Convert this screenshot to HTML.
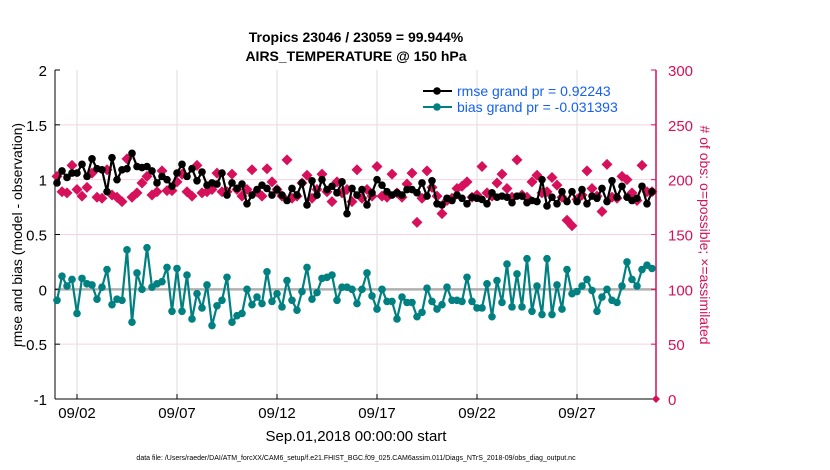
<!DOCTYPE html>
<html><head><meta charset="utf-8"><style>
body{margin:0;background:#fff;}
svg{display:block;font-family:"Liberation Sans",Arial,sans-serif;}
</style></head><body>
<svg id="chart" width="830" height="470" viewBox="0 0 830 470">
<text x="356" y="42" text-anchor="middle" font-size="14" font-weight="bold">Tropics 23046 / 23059 = 99.944%</text>
<text x="356" y="61" text-anchor="middle" font-size="14" font-weight="bold">AIRS_TEMPERATURE @ 150 hPa</text>
<g id="grid"></g>
<g id="axes"></g>
<g id="marks"></g>
<text transform="translate(22,235) rotate(-90)" text-anchor="middle" font-size="14">rmse and bias (model - observation)</text>
<text transform="translate(700,235) rotate(90)" text-anchor="middle" font-size="14" fill="#d6105a"># of obs: o=possible; ×=assimilated</text>
<text x="356" y="441" text-anchor="middle" font-size="15">Sep.01,2018 00:00:00 start</text>
<text x="356" y="460" text-anchor="middle" font-size="7">data file: /Users/raeder/DAI/ATM_forcXX/CAM6_setup/f.e21.FHIST_BGC.f09_025.CAM6assim.011/Diags_NTrS_2018-09/obs_diag_output.nc</text>
<g>
<line x1="423" y1="91" x2="452" y2="91" stroke="#000" stroke-width="2"/>
<circle cx="437" cy="91" r="3.8" fill="#000"/>
<text x="457" y="96" font-size="14" fill="#1560f0">rmse grand pr = 0.92243</text>
<line x1="423" y1="107" x2="452" y2="107" stroke="#008080" stroke-width="2"/>
<circle cx="437" cy="107" r="3.8" fill="#008080"/>
<text x="457" y="112" font-size="14" fill="#1560f0">bias grand pr = -0.031393</text>
</g>
</svg>
<script>
const rmse=[0.97,1.08,1.02,1.06,1.06,1.14,1.03,1.19,1.10,1.09,0.89,1.20,1.00,1.09,1.10,1.24,1.12,1.11,1.12,1.08,0.97,1.03,1.00,0.94,1.06,1.14,1.03,1.10,0.99,1.07,0.95,0.97,0.96,1.06,0.86,0.97,0.92,0.96,0.78,0.86,0.91,
0.95,0.92,0.86,0.91,0.86,0.81,0.92,0.86,0.97,0.77,0.99,0.86,1.0,0.91,0.94,0.88,0.98,0.69,0.92,0.86,0.91,0.77,0.88,1.0,0.95,0.89,0.86,0.88,0.86,0.91,0.91,0.88,0.97,0.85,0.99,0.78,0.77,0.83,0.81,0.86,
0.83,0.78,0.84,0.83,0.82,0.78,0.88,0.84,0.85,0.84,0.79,0.85,0.85,0.79,0.81,0.80,1.0,0.76,0.84,0.78,0.89,0.80,0.89,0.80,0.91,0.78,0.85,0.83,0.92,0.80,0.99,0.84,0.94,0.84,0.81,0.83,0.94,0.78,0.89];
const bias=[-0.10,0.12,0.03,0.09,-0.22,0.10,0.05,0.04,-0.09,0.02,0.18,-0.14,-0.09,-0.10,0.36,-0.30,0.15,0.0,0.38,0.02,0.05,0.07,0.20,-0.20,0.19,-0.20,0.13,-0.27,-0.04,-0.17,0.04,-0.33,-0.15,-0.10,0.11,-0.30,-0.24,-0.22,0.0,-0.14,-0.07,
-0.13,0.16,-0.11,-0.04,-0.16,0.08,-0.10,-0.19,-0.02,0.20,-0.09,-0.03,0.10,0.11,0.13,-0.10,0.02,0.02,0.0,-0.13,0.0,0.15,-0.06,-0.18,0.0,-0.11,-0.11,-0.27,-0.07,-0.12,-0.12,-0.25,-0.21,0.01,-0.11,-0.18,-0.14,0.02,-0.10,-0.10,
-0.11,0.11,-0.11,-0.17,-0.17,0.05,-0.25,0.08,-0.12,0.23,-0.16,0.14,-0.16,0.28,-0.20,0.03,-0.23,0.28,-0.23,0.04,-0.18,0.18,-0.04,-0.02,0.03,0.09,-0.01,-0.20,-0.07,0,-0.10,-0.12,0.03,0.25,0.09,0.03,0.18,0.22,0.19];
const nobs=[203,189,188,213,191,185,193,206,184,183,209,186,184,180,219,184,188,197,203,186,189,208,190,190,198,205,189,185,213,188,189,191,206,189,189,205,191,185,191,209,189,
185,210,198,191,185,218,183,185,197,204,183,191,205,189,180,198,188,191,180,209,183,191,185,212,185,184,205,188,184,196,206,161,183,208,193,185,169,181,183,192,
194,198,184,186,212,188,185,197,205,192,184,218,186,184,198,204,188,189,202,195,184,163,158,182,186,208,192,185,171,214,184,183,203,200,188,181,213,189,189];
const xTickDays=[1,6,11,16,21,26];
const xTickLabels=["09/02","09/07","09/12","09/17","09/22","09/27"];
const yLeftTicks=[-1,-0.5,0,0.5,1,1.5,2];
const yRightTicks=[0,50,100,150,200,250,300];
const stepDays=0.25;

const NS="http://www.w3.org/2000/svg";
const X0=55,X1=656,Y0=399,Y1=70;
const xs=t=>X0+(t+0.1)/30.05*(X1-X0);
const yl=v=>Y0-(v+1)/3*(Y0-Y1);
const yr=v=>Y0-v/300*(Y0-Y1);
function mk(tag,at,parent){const e=document.createElementNS(NS,tag);for(const k in at)e.setAttribute(k,at[k]);parent.appendChild(e);return e;}
const grid=document.getElementById('grid'),axes=document.getElementById('axes'),marks=document.getElementById('marks');
xTickDays.forEach((d,i)=>{
  const g=mk('line',{x1:xs(d),x2:xs(d),y1:Y1,y2:Y0,stroke:'#dcdcdc','stroke-width':1},grid);
  
  
  mk('line',{x1:xs(d),x2:xs(d),y1:Y0,y2:Y0-5,stroke:'#000'},axes);
  const t=mk('text',{x:xs(d),y:Y0+19,'text-anchor':'middle','font-size':15},axes);
  t.textContent=xTickLabels[i];
  
  
});
yRightTicks.forEach(v=>{
  if(v>0&&v<300){const g=mk('line',{x1:X0,x2:X1,y1:yr(v),y2:yr(v),stroke:'#f7d3e0','stroke-width':1},grid);
  
  }
  mk('line',{x1:X1,x2:X1-5,y1:yr(v),y2:yr(v),stroke:'#d6105a'},axes);
  const t=mk('text',{x:X1+12,y:yr(v)+6,'font-size':15,fill:'#d6105a'},axes);
  t.textContent=v;
  
  
});
yLeftTicks.forEach(v=>{
  mk('line',{x1:X0,x2:X0+5,y1:yl(v),y2:yl(v),stroke:'#000'},axes);
  const t=mk('text',{x:X0-8,y:yl(v)+6,'text-anchor':'end','font-size':15},axes);
  t.textContent=v;
  
  
});
mk('line',{x1:X0,x2:X0,y1:Y1,y2:Y0,stroke:'#000'},axes);
mk('line',{x1:X0,x2:X1,y1:Y0,y2:Y0,stroke:'#000'},axes);
mk('line',{x1:X1,x2:X1,y1:Y1,y2:Y0,stroke:'#d6105a','stroke-width':1.5},axes);
const zl=mk('line',{x1:X0,x2:X1,y1:yl(0),y2:yl(0),stroke:'#b0b0b0','stroke-width':2.5},grid);


nobs.forEach((v,i)=>{
  const x=xs(i*stepDays),y=yr(v),r=5.5;
  const p=mk('polygon',{points:`${x},${y-r} ${x+r},${y} ${x},${y+r} ${x-r},${y}`,fill:'#d6105a'},marks);
  
  
});
const z=mk('polygon',{points:`${X1},${Y0-4} ${X1+4},${Y0} ${X1},${Y0+4} ${X1-4},${Y0}`,fill:'#d6105a'},marks);


function series(arr,col,name){
  const pl=mk('polyline',{points:arr.map((v,i)=>xs(i*stepDays)+','+yl(v)).join(' '),fill:'none',stroke:col,'stroke-width':2.2},marks);
  
  
  arr.forEach((v,i)=>{
    const c=mk('circle',{cx:xs(i*stepDays),cy:yl(v),r:3.8,fill:col},marks);
    
    
  });
}
series(rmse,'#000','rmse');
series(bias,'#008080','bias');
</script>
</body></html>
